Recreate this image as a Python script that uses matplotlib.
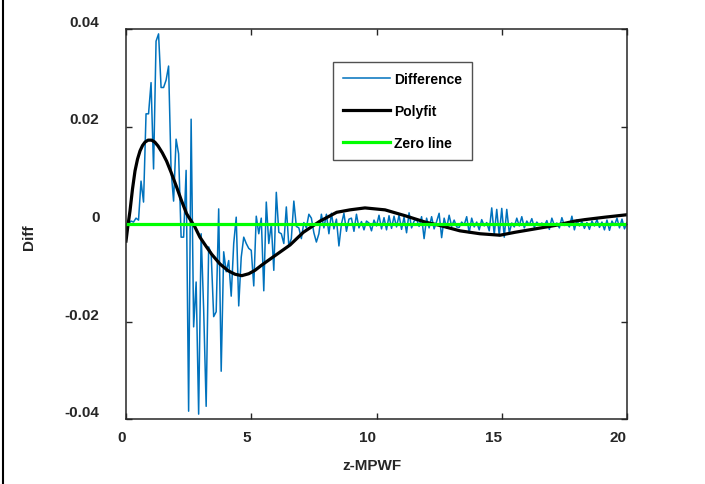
import numpy as np
import matplotlib
matplotlib.use("Agg")
import matplotlib.pyplot as plt
from matplotlib.lines import Line2D

plt.rcParams['font.family'] = ['Liberation Sans', 'DejaVu Sans']
plt.rcParams['font.weight'] = 'bold'

# Difference, sampled every 0.1 in z-MPWF (0.0 ... 20.0)
diff = [
    0.000, 0.000, 0.0006, 0.0004, 0.0012, 0.0008, 0.0088, 0.0045, 0.0226, 0.0226,
    0.029, 0.0113, 0.0375, 0.039, 0.028, 0.028, 0.0295, 0.0324, 0.011, 0.0047,
    0.0174, 0.0144, -0.0027, -0.0027, 0.011, -0.0384, 0.0215, -0.0211, -0.0119, -0.039,
    -0.002, -0.0175, -0.0374, -0.0047, -0.006, -0.019, -0.018, 0.0031, -0.0302, -0.0057,
    -0.0098, -0.0075, -0.0148, -0.004, 0.0014, -0.0168, -0.0068, -0.0027, -0.004, -0.005,
    -0.0054, -0.0127, 0.0016, -0.002, 0.0012, -0.0137, 0.0045, -0.004, 0.0, -0.0095,
    0.0065, -0.0017, -0.002, -0.004, 0.0035, -0.0045, -0.003, 0.0047, -0.0005, -0.0008,
    -0.003, 0.0003, -0.0008, 0.002, 0.0012, -0.0018, -0.0037, -0.002, 0.002, -0.0008,
    0.002, -0.002, 0.0022, -0.001, 0.001, -0.0045, 0.0, 0.0022, -0.0015, 0.001,
    0.0012, -0.0015, 0.002, -0.0008, 0.0005, -0.0012, 0.0006, 0.0002, -0.0014, 0.0008,
    -0.0004, 0.0018, -0.001, 0.0013, -0.0012, 0.0017, -0.0009, 0.0016, -0.0006, 0.0018,
    -0.0011, 0.0014, -0.0018, 0.0023, -0.0008, 0.0006, 0.001, -0.0005, 0.0015, -0.003,
    0.0012, -0.0008, 0.0015, -0.001, 0.0005, 0.0022, -0.0028, 0.0012, -0.0008, 0.0018,
    -0.0005, 0.0008, -0.0006, -0.0007, 0.0004, -0.0002, 0.0015, -0.0018, 0.0012, -0.0006,
    0.0004, -0.0012, 0.0009, -0.0004, 0.0003, -0.0014, 0.0033, -0.0022, 0.003, -0.0024,
    0.0032, -0.0027, 0.003, -0.0018, 0.0002, -0.0006, 0.0012, -0.0004, 0.0015, -0.0008,
    0.0006, -0.0002, 0.0011, -0.0007, 0.0004, -0.0003, 0.0002, -0.0004, 0.0007, -0.0011,
    0.0012, -0.0003, 0.0002, -0.0008, 0.0013, -0.0003, 0.0001, -0.0006, 0.0016, -0.0012,
    0.0008, -0.0004, 0.0005, -0.0009, 0.0003, -0.0011, 0.0006, -0.0004, 0.0009, -0.0007,
    0.0004, -0.0012, 0.0008, -0.0013, 0.0006, -0.0003, 0.0012, -0.0008, 0.0010, -0.0010,
    0.0003,
]
z_step = 0.1
z = np.round(np.arange(len(diff)) * z_step, 1)

# polyfit curve
fit_z = [0, 0.08, 0.16, 0.26, 0.36, 0.46, 0.56, 0.66, 0.76, 0.88, 1.02, 1.15,
         1.28, 1.45, 1.62, 1.8, 2.02, 2.2, 2.42, 2.75, 2.95, 3.2, 3.42, 3.75,
         4.08, 4.35, 4.62, 4.9, 5.15, 5.4, 5.67, 6.0, 6.55, 7.08, 7.75, 8.41,
         8.94, 9.54, 10.34, 11.14, 11.94, 12.53, 13.33, 14.13, 14.93, 15.53,
         16.33, 17.13, 17.92, 18.32, 19.12, 20.0]
fit_d = [-0.0035, -0.0002, 0.0027, 0.0072, 0.0109, 0.0133, 0.015, 0.0161,
         0.0168, 0.0172, 0.0172, 0.0168, 0.016, 0.0146, 0.0129, 0.0106, 0.0076,
         0.0050, 0.0021, -0.0006, -0.0027, -0.0046, -0.0062, -0.0082, -0.0096,
         -0.0103, -0.0106, -0.0102, -0.0095, -0.0085, -0.0075, -0.0063, -0.0043,
         -0.0017, 0.0006, 0.0024, 0.0029, 0.0033, 0.0029, 0.0017, 0.0004,
         -0.0003, -0.0014, -0.002, -0.0023, -0.0017, -0.001, -0.0003, 0.0006,
         0.0009, 0.0014, 0.0019]

xticks = [0, 5, 10, 15, 20]
yticks = [-0.04, -0.02, 0, 0.02, 0.04]
ytick_labels = ['-0.04', '-0.02', '0', '0.02', '0.04']

fig = plt.figure(figsize=(7.05, 4.85), dpi=100)
ax = fig.add_axes([126/705, 65/485, 501/705, 390/485])

ax.plot(z, diff, color='#0072BD', lw=1.1, label='Difference')
ax.plot(fit_z, fit_d, color='black', lw=2.3, label='Polyfit')
ax.plot([0, 20], [0, 0], color='#00FF00', lw=2.3, label='Zero line')

ax.set_xlim(0, 20)
ax.set_ylim(-0.04, 0.04)
ax.set_xticks(xticks)
ax.set_yticks(yticks)
ax.set_yticklabels(ytick_labels)
ax.tick_params(direction='in', length=4, width=1, top=True, right=True,
               labelsize=11, colors='#262626')
ax.tick_params(axis='y', pad=19)
ax.tick_params(axis='x', pad=8)
for lab in ax.get_yticklabels():
    lab.set_va('bottom')
for lab in ax.get_xticklabels():
    lab.set_ha('right')
for s in ax.spines.values():
    s.set_color('#262626')
    s.set_linewidth(1.1)

ax.set_xlabel('z-MPWF', fontsize=11, fontweight='bold', color='#262626')
ax.set_ylabel('Diff', fontsize=11, fontweight='bold', color='#262626')
ax.xaxis.set_label_coords(0.49, -0.10)
ax.yaxis.set_label_coords(-0.18, 0.47)

leg = ax.legend(loc='upper left', bbox_to_anchor=(207/501, 1 - 33/390),
                borderaxespad=0, fontsize=10, frameon=True, fancybox=False,
                handlelength=3.4, labelspacing=1.3, borderpad=0.7,
                handletextpad=0.3)
leg.get_frame().set_edgecolor('#262626')
leg.get_frame().set_linewidth(1.0)

fig.add_artist(Line2D([3/705, 3/705], [0, 1], color='black', lw=1.5,
                      transform=fig.transFigure))

fig.savefig('out.png', dpi=100)
